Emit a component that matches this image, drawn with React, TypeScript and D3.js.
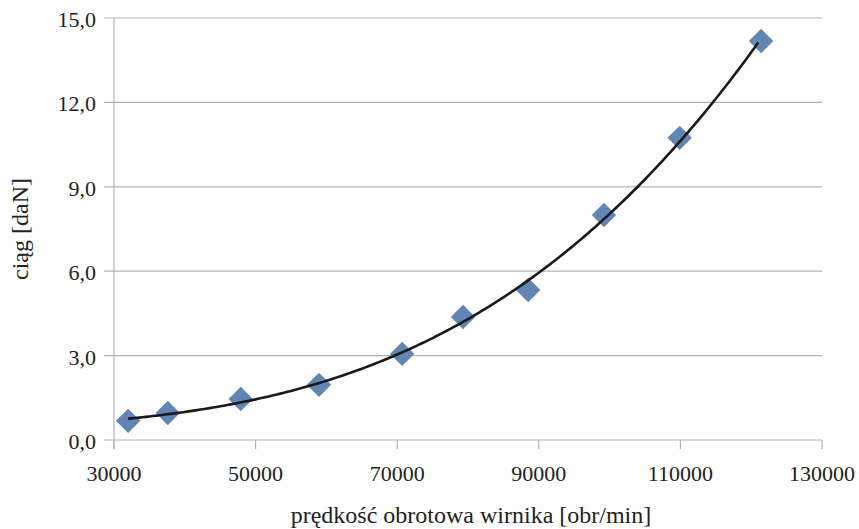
import { useEffect, useRef } from 'react';
import * as d3 from 'd3';

// measured points: rotor speed [obr/min] vs thrust [daN]
const speeds = [32000, 37600, 47900, 58950, 70700, 79300, 88500, 99200, 109900, 121400];
const thrust = [0.68, 0.96, 1.46, 1.96, 3.06, 4.37, 5.33, 8.0, 10.74, 14.18];
const yTicks = [0, 3, 6, 9, 12, 15];
const xTicks = [30000, 50000, 70000, 90000, 110000, 130000];

const W = 859;
const H = 529;

// least squares polynomial (Excel style trendline)
function polyFit(xs: number[], ys: number[], order: number) {
    const n = order + 1;
    const sx = (v: number) => (v - 75000) / 50000;
    const A: number[][] = [];
    for (let r = 0; r < n; r++) {
        A.push([]);
        for (let c = 0; c <= n; c++) A[r].push(0);
    }
    xs.forEach((x, i) => {
        const t = sx(x);
        for (let r = 0; r < n; r++) {
            for (let c = 0; c < n; c++) A[r][c] += Math.pow(t, r + c);
            A[r][n] += Math.pow(t, r) * ys[i];
        }
    });
    for (let i = 0; i < n; i++) {
        for (let k = i + 1; k < n; k++) {
            const f = A[k][i] / A[i][i];
            for (let c = i; c <= n; c++) A[k][c] -= f * A[i][c];
        }
    }
    const coef = new Array(n).fill(0);
    for (let i = n - 1; i >= 0; i--) {
        let s = A[i][n];
        for (let c = i + 1; c < n; c++) s -= A[i][c] * coef[c];
        coef[i] = s / A[i][i];
    }
    return (x: number) => {
        const t = sx(x);
        return coef.reduce((acc, a, i) => acc + a * Math.pow(t, i), 0);
    };
}

export default function App() {
    const svgRef = useRef<SVGSVGElement>(null);

    useEffect(() => {
        if (!svgRef.current) return;
        const root = d3.select(svgRef.current);
        root.selectAll('*').remove();

        const left = 114, right = 822, top = 18, bottom = 440;
        const x = d3.scaleLinear().domain([30000, 130000]).range([left, right]);
        const y = d3.scaleLinear().domain([0, 15]).range([bottom, top]);
        const grid = '#b3b3b3';

        // horizontal gridlines
        root.append('g')
            .selectAll('line')
            .data(yTicks)
            .enter()
            .append('line')
            .attr('x1', left - 10)
            .attr('x2', right)
            .attr('y1', (d) => y(d))
            .attr('y2', (d) => y(d))
            .attr('stroke', grid)
            .attr('stroke-width', 1.2);

        // axes lines and ticks
        root.append('line')
            .attr('x1', left).attr('x2', left)
            .attr('y1', top).attr('y2', bottom + 9)
            .attr('stroke', grid).attr('stroke-width', 1.2);

        root.append('g')
            .selectAll('line')
            .data(xTicks)
            .enter()
            .append('line')
            .attr('x1', (d) => x(d))
            .attr('x2', (d) => x(d))
            .attr('y1', bottom)
            .attr('y2', bottom + 9)
            .attr('stroke', grid)
            .attr('stroke-width', 1.2);

        const fmt = (v: number) => v.toFixed(1).replace('.', ',');

        root.append('g')
            .selectAll('text')
            .data(yTicks)
            .enter()
            .append('text')
            .attr('x', left - 18)
            .attr('y', (d) => y(d) + 9)
            .attr('text-anchor', 'end')
            .attr('font-size', 22)
            .text(fmt);

        root.append('g')
            .selectAll('text')
            .data(xTicks)
            .enter()
            .append('text')
            .attr('x', (d) => x(d))
            .attr('y', bottom + 41)
            .attr('text-anchor', 'middle')
            .attr('font-size', 22)
            .text((d) => String(d));

        // axis titles
        root.append('text')
            .attr('x', 471)
            .attr('y', 523)
            .attr('text-anchor', 'middle')
            .attr('font-size', 24)
            .text('prędkość obrotowa wirnika [obr/min]');

        root.append('text')
            .attr('transform', `translate(28, 229) rotate(-90)`)
            .attr('text-anchor', 'middle')
            .attr('font-size', 24)
            .text('ciąg [daN]');

        // markers
        const data = speeds.map((s, i) => ({ s, t: thrust[i] }));
        const diamond = d3.symbol().type(d3.symbolDiamond2).size(380);
        root.append('g')
            .selectAll('path')
            .data(data)
            .enter()
            .append('path')
            .attr('d', diamond)
            .attr('transform', (d) => `translate(${x(d.s)}, ${y(d.t)})`)
            .attr('fill', '#6186b3');

        // trendline
        const f = polyFit(speeds, thrust, 3);
        const xs = d3.range(speeds[0], speeds[speeds.length - 1] + 1, 500);
        const line = d3.line<number>()
            .x((d) => x(d))
            .y((d) => y(f(d)))
            .curve(d3.curveMonotoneX);
        root.append('path')
            .attr('d', line(xs))
            .attr('fill', 'none')
            .attr('stroke', '#1a1a1a')
            .attr('stroke-width', 2.6);
    }, []);

    return (
        <svg
            ref={svgRef}
            width={W}
            height={H}
            fill="#222"
            style={{
                position: 'absolute',
                left: 0,
                top: 0,
                background: '#fff',
                fontFamily: 'Liberation Serif, serif',
            }}
        />
    );
}
